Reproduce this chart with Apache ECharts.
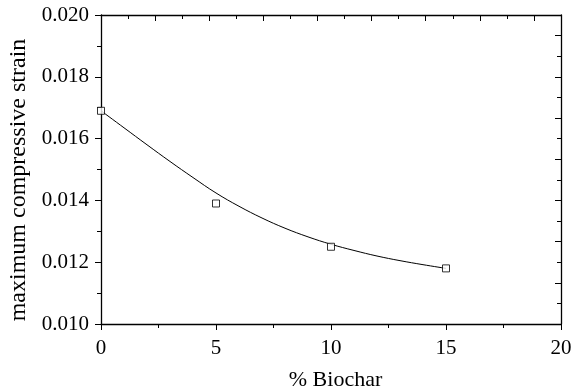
<!DOCTYPE html>
<html>
<head>
<meta charset="utf-8">
<script src="https://cdn.jsdelivr.net/npm/echarts@6/dist/echarts.min.js"></script>
<style>
  html, body { margin: 0; padding: 0; background: #fff; }
  #chart { width: 573px; height: 389px; }
</style>
</head>
<body>
<div id="chart"></div>
<script>
// measured points
const biochar = [0, 5, 10, 15]
const strain = [0.0169, 0.0139, 0.0125, 0.0118]

// fitted curve
const fitX = [0, 1, 2, 3, 4, 5, 6, 7, 8, 9, 10, 11, 12, 13, 14, 15]
const fitY = [0.01690, 0.01635, 0.01580, 0.01526, 0.01474, 0.01424, 0.01381, 0.01343,
  0.01310, 0.01282, 0.01258, 0.01238, 0.01220, 0.01205, 0.01192, 0.01180]

const yTicks = ['0.010', '0.012', '0.014', '0.016', '0.018', '0.020']
const xTicks = ['0', '5', '10', '15', '20']

const font = 'Liberation Serif'
const black = '#000'

const chart = echarts.init(document.getElementById('chart'))

const option = {
  animation: false,
  backgroundColor: '#fff',
  textStyle: { fontFamily: font, color: black },
  grid: { left: 101, right: 12, top: 15, bottom: 65, outerBoundsMode: 'none', containLabel: false },
  xAxis: [
    {
      type: 'value', position: 'bottom',
      min: 0, max: 20, interval: 5,
      name: '% Biochar', nameLocation: 'middle', nameGap: 45,
      nameTextStyle: { fontFamily: font, fontSize: 22, color: black, padding: [0, 0, 0, 9] },
      axisLine: { show: true, onZero: false, lineStyle: { color: black, width: 1.3 } },
      axisTick: { show: true, inside: false, length: 6, lineStyle: { color: black } },
      minorTick: { show: true, splitNumber: 2, length: 4, lineStyle: { color: black } },
      splitLine: { show: false },
      axisLabel: { margin: 14, fontFamily: font, fontSize: 21, color: black,
        formatter: v => xTicks[v / 5] }
    },
    {
      // secondary top axis, ticks only
      type: 'value', position: 'top',
      min: 0, max: 17, interval: 2,
      axisLine: { show: true, onZero: false, lineStyle: { color: black, width: 1.3 } },
      axisTick: { show: true, inside: true, length: 6, lineStyle: { color: black } },
      minorTick: { show: true, splitNumber: 2, length: 4, lineStyle: { color: black } },
      splitLine: { show: false },
      axisLabel: { show: false }
    }
  ],
  yAxis: [
    {
      type: 'value', position: 'left',
      min: 0.010, max: 0.020, interval: 0.002,
      name: 'maximum compressive strain', nameLocation: 'middle', nameGap: 70,
      nameTextStyle: { fontFamily: font, fontSize: 24, color: black, padding: [0, 21, 0, 0] },
      axisLine: { show: true, onZero: false, lineStyle: { color: black, width: 1.3 } },
      axisTick: { show: true, inside: false, length: 6, lineStyle: { color: black } },
      minorTick: { show: true, splitNumber: 2, length: 4, lineStyle: { color: black } },
      splitLine: { show: false },
      axisLabel: { margin: 12, fontFamily: font, fontSize: 21, color: black,
        formatter: v => yTicks[Math.round((v - 0.010) / 0.002)] }
    },
    {
      // secondary right axis, ticks only
      type: 'value', position: 'right',
      min: 0, max: 15, interval: 2,
      axisLine: { show: true, onZero: false, lineStyle: { color: black, width: 1.3 } },
      axisTick: { show: true, inside: true, length: 6, lineStyle: { color: black } },
      minorTick: { show: true, splitNumber: 2, length: 4, lineStyle: { color: black } },
      splitLine: { show: false },
      axisLabel: { show: false }
    }
  ],
  series: [
    {
      type: 'line',
      xAxisIndex: 0, yAxisIndex: 0,
      data: fitX.map((x, i) => [x, fitY[i]]),
      smooth: 0.4,
      showSymbol: false,
      lineStyle: { color: black, width: 1 },
      z: 2
    },
    {
      type: 'scatter',
      xAxisIndex: 0, yAxisIndex: 0,
      data: biochar.map((x, i) => [x, strain[i]]),
      symbol: 'rect',
      symbolSize: 7,
      clip: false,
      itemStyle: { color: '#fff', borderColor: black, borderWidth: 1 },
      z: 3
    }
  ]
}

chart.setOption(option)
</script>
</body>
</html>
